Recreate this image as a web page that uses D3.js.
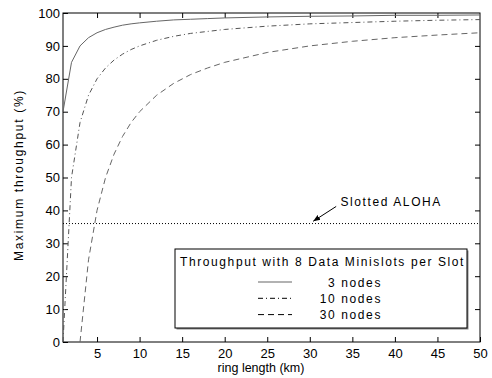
<!DOCTYPE html>
<html>
<head>
<meta charset="utf-8">
<script src="https://cdn.jsdelivr.net/npm/d3@7"></script>
<style>
  body { margin: 0; background: #fff; }
  svg { display: block; font-family: "Liberation Sans", Arial, sans-serif; }
</style>
</head>
<body>
<div id="chart"></div>
<script>
// ring length samples (km)
const ringLength = [1, 2, 3, 4, 5, 6, 7, 8, 9, 10, 12, 14, 16, 18, 20, 25, 30, 35, 40, 45, 50];
// maximum throughput (%)
const nodes3  = [70, 85, 90, 92.5, 94, 95, 95.7, 96.3, 96.7, 97, 97.5, 97.9, 98.1, 98.3, 98.5, 98.8, 99, 99.1, 99.3, 99.3, 99.4];
const nodes10 = [0, 50, 66.7, 75, 80, 83.3, 85.7, 87.5, 88.9, 90, 91.7, 92.9, 93.8, 94.4, 95, 96, 96.7, 97.1, 97.5, 97.8, 98];
const nodes30 = [null, null, 0, 25, 40, 50, 57.1, 62.5, 66.7, 70, 75, 78.6, 81.3, 83.3, 85, 88, 90, 91.4, 92.5, 93.3, 94];
const seriesNames = ['3 nodes', '10 nodes', '30 nodes'];
const alohaLevel = 36;
const xTicks = [5, 10, 15, 20, 25, 30, 35, 40, 45, 50];
const yTicks = [0, 10, 20, 30, 40, 50, 60, 70, 80, 90, 100];

const width = 492, height = 378;
const margin = { top: 13, right: 12, bottom: 36, left: 63 };
const innerW = width - margin.left - margin.right;
const innerH = height - margin.top - margin.bottom;

const svg = d3.select('#chart').append('svg')
  .attr('width', width)
  .attr('height', height);

svg.append('rect').attr('width', width).attr('height', height).attr('fill', '#fff');

const g = svg.append('g').attr('transform', `translate(${margin.left},${margin.top})`);

const x = d3.scaleLinear().domain([1, 50]).range([0, innerW]);
const y = d3.scaleLinear().domain([0, 100]).range([innerH, 0]);

// axes with inward ticks on all sides
const styleAxis = sel => {
  sel.select('.domain').remove();
  sel.selectAll('.tick line').attr('stroke', '#000');
  sel.selectAll('.tick text')
    .attr('fill', '#000')
    .style('font-size', '13px')
    .style('font-family', '"Liberation Sans", Arial, sans-serif');
};

g.append('g')
  .attr('transform', `translate(0,${innerH})`)
  .call(d3.axisBottom(x).tickValues(xTicks).tickSizeInner(-5).tickSizeOuter(0).tickPadding(7))
  .call(styleAxis);

g.append('g')
  .call(d3.axisTop(x).tickValues(xTicks.slice(0, -1)).tickSizeInner(-5).tickSizeOuter(0).tickFormat(''))
  .call(styleAxis);

g.append('g')
  .call(d3.axisLeft(y).tickValues(yTicks).tickSizeInner(-5).tickSizeOuter(0).tickPadding(3))
  .call(styleAxis);

g.append('g')
  .attr('transform', `translate(${innerW},0)`)
  .call(d3.axisRight(y).tickValues(yTicks.slice(1, -1)).tickSizeInner(-5).tickSizeOuter(0).tickFormat(''))
  .call(styleAxis);

g.append('rect')
  .attr('width', innerW).attr('height', innerH)
  .attr('fill', 'none').attr('stroke', '#000').attr('stroke-width', 1);

// Slotted ALOHA reference
g.append('line')
  .attr('x1', x(1)).attr('x2', x(50))
  .attr('y1', y(alohaLevel)).attr('y2', y(alohaLevel))
  .attr('stroke', '#000').attr('stroke-width', 1)
  .attr('stroke-dasharray', '1,2');

svg.append('defs').append('marker')
  .attr('id', 'arrow')
  .attr('viewBox', '0 0 10 10')
  .attr('refX', 10).attr('refY', 5)
  .attr('markerWidth', 7).attr('markerHeight', 7)
  .attr('orient', 'auto')
  .append('path')
  .attr('d', 'M0,1 L10,5 L0,9 Z')
  .attr('fill', '#000');

g.append('line')
  .attr('x1', x(33.1)).attr('y1', y(41.2))
  .attr('x2', x(30.4)).attr('y2', y(36.7))
  .attr('stroke', '#000').attr('stroke-width', 1)
  .attr('marker-end', 'url(#arrow)');

g.append('text')
  .attr('x', x(33.6)).attr('y', y(41.3))
  .attr('font-size', '12px')
  .attr('letter-spacing', '1.6px')
  .attr('fill', '#000')
  .text('Slotted ALOHA');

// curves
const styles = [
  { color: '#666', dash: null },
  { color: '#555', dash: '5,3,1,3' },
  { color: '#666', dash: '6,4' }
];
const allSeries = [nodes3, nodes10, nodes30];

const line = d3.line()
  .defined(d => d[1] != null)
  .x(d => x(d[0]))
  .y(d => y(d[1]));

allSeries.forEach((vals, i) => {
  const data = ringLength.map((r, k) => [r, vals[k]]);
  g.append('path')
    .datum(data)
    .attr('fill', 'none')
    .attr('stroke', styles[i].color)
    .attr('stroke-width', 1)
    .attr('stroke-dasharray', styles[i].dash)
    .attr('d', line);
});

// legend
const legend = svg.append('g').attr('transform', 'translate(175,249)');
legend.append('rect')
  .attr('x', 1.5).attr('y', 1.5)
  .attr('width', 292).attr('height', 79)
  .attr('fill', '#888');
legend.append('rect')
  .attr('width', 292).attr('height', 79)
  .attr('fill', '#fff').attr('stroke', '#000').attr('stroke-width', 1);

legend.append('text')
  .attr('x', 5).attr('y', 17)
  .attr('font-size', '12px')
  .attr('letter-spacing', '1.6px')
  .attr('fill', '#000')
  .text('Throughput with 8 Data Minislots per Slot');

seriesNames.forEach((name, i) => {
  const cy = 33 + i * 16.3;
  legend.append('line')
    .attr('x1', 83).attr('x2', 117)
    .attr('y1', cy).attr('y2', cy)
    .attr('stroke', i === 0 ? '#999' : '#000')
    .attr('stroke-width', i === 0 ? 1.5 : 1)
    .attr('stroke-dasharray', styles[i].dash);
  legend.append('text')
    .attr('x', 207).attr('y', cy + 4.5)
    .attr('text-anchor', 'end')
    .attr('font-size', '12px')
    .attr('letter-spacing', '1.6px')
    .attr('fill', '#000')
    .text(name);
});

// axis titles
svg.append('text')
  .attr('x', 261).attr('y', 372)
  .attr('text-anchor', 'middle')
  .attr('font-size', '12.5px')
  .attr('fill', '#000')
  .text('ring length (km)');

svg.append('text')
  .attr('transform', 'translate(23,175) rotate(-90)')
  .attr('text-anchor', 'middle')
  .attr('font-size', '12px')
  .attr('letter-spacing', '1.7px')
  .attr('fill', '#000')
  .text('Maximum throughput (%)');
</script>
</body>
</html>
